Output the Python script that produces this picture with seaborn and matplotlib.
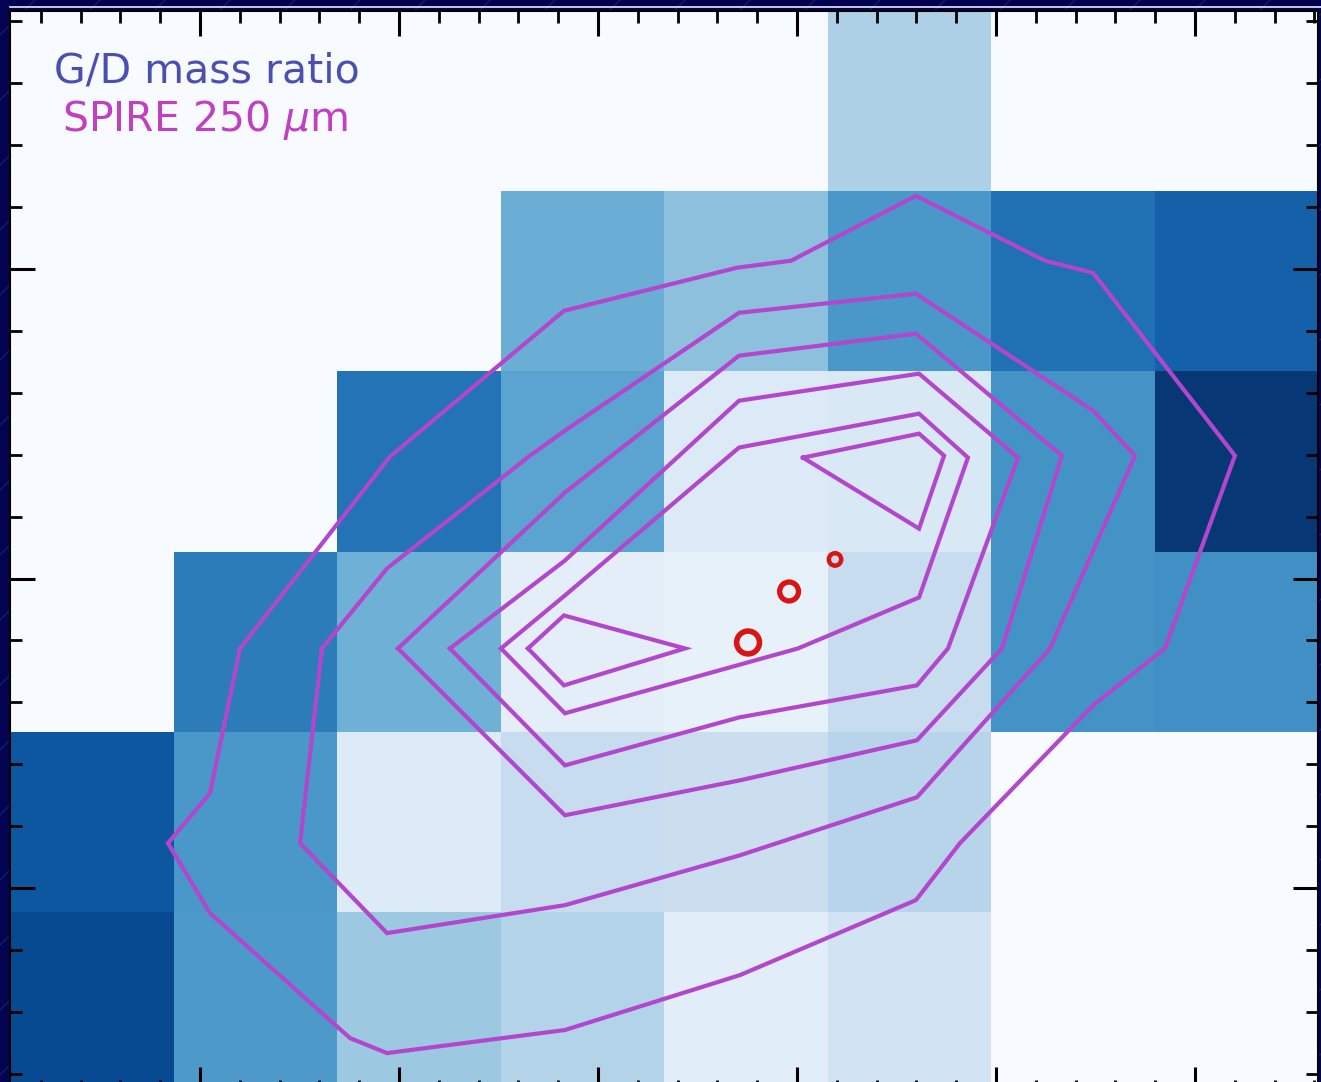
import numpy as np
import pandas as pd
import seaborn as sns
import matplotlib
matplotlib.use("Agg")
import matplotlib.pyplot as plt
from matplotlib.lines import Line2D
from matplotlib.ticker import FixedLocator

# ---------------------------------------------------------------
# Gas-to-dust mass ratio map (normalised, 8 x 6 pixels, top row first)
# ---------------------------------------------------------------
gd_row0 = [0.00, 0.00, 0.00, 0.00, 0.00, 0.33, 0.00, 0.00]
gd_row1 = [0.00, 0.00, 0.00, 0.50, 0.42, 0.60, 0.75, 0.81]
gd_row2 = [0.00, 0.00, 0.74, 0.55, 0.14, 0.15, 0.62, 0.97]
gd_row3 = [0.00, 0.71, 0.49, 0.10, 0.08, 0.24, 0.62, 0.63]
gd_row4 = [0.85, 0.60, 0.13, 0.24, 0.23, 0.30, 0.00, 0.00]
gd_row5 = [0.90, 0.59, 0.38, 0.31, 0.11, 0.19, 0.00, 0.00]

# SPIRE 250 micron contour levels (vertices in map-pixel units)
lev1_x = [1.407, 2.324, 3.388, 4.446, 4.777, 5.541, 6.330, 6.624, 7.492, 7.064,
          6.624, 5.810, 5.541, 4.465, 3.394, 2.306, 2.080, 1.223, 0.966, 1.223, 1.407]
lev1_y = [3.538, 2.473, 1.664, 1.425, 1.386, 1.026, 1.386, 1.453, 2.468, 3.538,
          3.854, 4.619, 4.935, 5.351, 5.656, 5.784, 5.701, 5.007, 4.619, 4.342, 3.538]

lev2_x = [1.908, 2.306, 3.180, 3.394, 4.459, 5.541, 6.624, 6.881, 6.361, 5.547,
          4.465, 3.394, 2.306, 1.774, 1.908]
lev2_y = [3.538, 3.094, 2.468, 2.329, 1.675, 1.569, 2.218, 2.468, 3.538, 4.364,
          4.686, 4.963, 5.118, 4.619, 3.538]

lev3_x = [2.373, 3.394, 4.459, 5.541, 6.434, 6.067, 5.547, 4.465, 3.394, 2.373]
lev3_y = [3.538, 2.673, 1.913, 1.791, 2.468, 3.538, 4.048, 4.270, 4.464, 3.538]

lev4_x = [2.691, 3.394, 4.459, 5.560, 6.165, 5.737, 5.547, 4.459, 3.394, 2.691]
lev4_y = [3.538, 3.050, 2.163, 2.013, 2.479, 3.538, 3.743, 3.921, 4.187, 3.538]

lev5_x = [3.003, 3.394, 4.459, 5.560, 5.859, 5.560, 4.820, 3.394, 3.003]
lev5_y = [3.538, 3.244, 2.423, 2.235, 2.479, 3.255, 3.538, 3.898, 3.538]

lev6a_x = [3.168, 3.388, 4.128, 3.388, 3.168]
lev6a_y = [3.538, 3.355, 3.538, 3.743, 3.538]

lev6b_x = [4.850, 5.560, 5.713, 5.560, 4.850]
lev6b_y = [2.479, 2.346, 2.468, 2.873, 2.479]

# Point sources
src_x = [4.514, 4.765, 5.046]
src_y = [3.505, 3.222, 3.044]
src_size = [270, 185, 80]
src_width = [4.0, 3.8, 3.2]

label_gd = "G/D mass ratio"
label_spire = r"SPIRE 250 $\mu$m"

# ---------------------------------------------------------------
W, H = 1321, 1082
fig = plt.figure(figsize=(W / 100, H / 100), dpi=100, facecolor="#030352")

# faint diagonal pattern of the slide background
for c in np.arange(-1200, 2500, 65):
    fig.add_artist(Line2D([0, 1], [1 - c / H, 1 - (c - W) / H],
                          transform=fig.transFigure, color="#2a2a80",
                          lw=0.8, alpha=0.7, zorder=0))
fig.add_artist(Line2D([10 / W, 1], [1 - 6.5 / H, 1 - 6.5 / H],
                      transform=fig.transFigure, color="#e8e8f4", lw=1.2, zorder=1))

ax_left, ax_right, ax_top, ax_bot = 10, 1318, 11, 1092
ax = fig.add_axes([ax_left / W, 1 - ax_bot / H,
                   (ax_right - ax_left) / W, (ax_bot - ax_top) / H])

gd = pd.DataFrame([gd_row0, gd_row1, gd_row2, gd_row3, gd_row4, gd_row5])
sns.heatmap(gd, cmap="Blues", vmin=0, vmax=1, cbar=False,
            xticklabels=False, yticklabels=False, linewidths=0, ax=ax)

contour_color = "#b246cc"
for xs, ys in [(lev1_x, lev1_y), (lev2_x, lev2_y), (lev3_x, lev3_y),
               (lev4_x, lev4_y), (lev5_x, lev5_y), (lev6a_x, lev6a_y),
               (lev6b_x, lev6b_y)]:
    ax.plot(xs, ys, color=contour_color, lw=3.0, solid_joinstyle="miter")

ax.scatter(src_x, src_y, s=src_size, facecolors="none",
           edgecolors="#d81414", linewidths=src_width, zorder=5)

ax.text(0.034, 0.9335, label_gd, transform=ax.transAxes, color="#4a50b2",
        fontsize=29.5, ha="left", va="baseline")
ax.text(0.040, 0.889, label_spire, transform=ax.transAxes, color="#c03fc2",
        fontsize=29.5, ha="left", va="baseline")

# frame and inward ticks on all four sides
for s in ax.spines.values():
    s.set_visible(True)
    s.set_color("black")
    s.set_linewidth(1.5)

x0, xstep = 1.162, 1.2172
y0, ystep = 1.431, 1.719
xmaj = [x0 + xstep * k for k in range(-1, 7) if 0 < x0 + xstep * k < 8]
xmin = [x0 + xstep / 5 * k for k in range(-6, 36) if 0 < x0 + xstep / 5 * k < 8]
ymaj = [y0 + ystep * k for k in range(-1, 4) if 0 < y0 + ystep * k < 6]
ymin = [y0 + ystep / 5 * k for k in range(-6, 20) if 0 < y0 + ystep / 5 * k < 6]
ax.xaxis.set_major_locator(FixedLocator(xmaj))
ax.xaxis.set_minor_locator(FixedLocator(xmin))
ax.yaxis.set_major_locator(FixedLocator(ymaj))
ax.yaxis.set_minor_locator(FixedLocator(ymin))
ax.tick_params(which="both", direction="in", top=True, bottom=True,
               left=True, right=True, labelbottom=False, labelleft=False,
               labeltop=False, labelright=False, color="black")
ax.tick_params(which="major", length=18, width=2.2)
ax.tick_params(which="minor", length=8.5, width=2.0)
ax.set_xlim(0, 8)
ax.set_ylim(6, 0)

fig.savefig("out.png", dpi=100, facecolor=fig.get_facecolor())
